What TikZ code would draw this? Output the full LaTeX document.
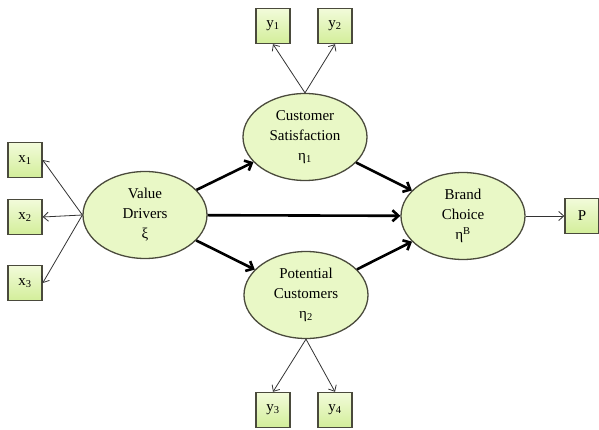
\documentclass[tikz,border=0pt]{standalone}
\usepackage{fontspec}
\setmainfont{Liberation Serif}
\usetikzlibrary{shapes.geometric, arrows.meta}
\definecolor{latentfill}{HTML}{E9F8C6}
\definecolor{boxtop}{HTML}{F2FBDA}
\definecolor{boxbot}{HTML}{D3EE9A}
\definecolor{edgegray}{HTML}{4A4A3C}
\begin{document}
\begin{tikzpicture}[x=1pt, y=-1pt,
  latent/.style={draw=edgegray, line width=1.3pt, ellipse, fill=latentfill, minimum width=124pt, minimum height=87pt, inner sep=0pt, align=center, font=\fontsize{15}{20}\selectfont},
  indicator/.style={draw=edgegray, line width=1.4pt, top color=boxtop, bottom color=boxbot, minimum width=34pt, minimum height=35pt, inner sep=0pt, font=\fontsize{15}{17}\selectfont},
  path/.style={-{Straight Barb[length=6pt, width=11pt]}, line width=2.6pt},
  load/.style={-{Straight Barb[length=5pt, width=9pt]}, line width=0.8pt, draw=black!80}
]
  \useasboundingbox (0,0) rectangle (599,430);
  % Latent variables
  \node[latent] (drivers) at (145, 215) {Value\\Drivers\\ξ};
  \node[latent] (satisf) at (305, 137) {Customer\\Satisfaction\\η\textsubscript{1}};
  \node[latent] (potent) at (306, 295) {Potential\\Customers\\η\textsubscript{2}};
  \node[latent] (brand) at (463, 216) {Brand\\Choice\\η\textsuperscript{B}};
  % Indicators
  \node[indicator] (x1) at (25, 160) {x\textsubscript{1}};
  \node[indicator] (x2) at (25, 217) {x\textsubscript{2}};
  \node[indicator] (x3) at (25, 283) {x\textsubscript{3}};
  \node[indicator] (y1) at (273, 26) {y\textsubscript{1}};
  \node[indicator] (y2) at (335, 26) {y\textsubscript{2}};
  \node[indicator] (y3) at (273, 410) {y\textsubscript{3}};
  \node[indicator] (y4) at (335, 410) {y\textsubscript{4}};
  \node[indicator] (p) at (582, 216) {P};

  % Structural paths
  \draw[path] (drivers) -- (satisf);
  \draw[path] (drivers) -- (potent);
  \draw[path] (drivers) -- (brand);
  \draw[path] (satisf) -- (brand);
  \draw[path] (potent) -- (brand);

  % Loadings
  \draw[load] (drivers.west) -- (x1.east);
  \draw[load] (drivers.west) -- (x2.east);
  \draw[load] (drivers.west) -- (x3.east);
  \draw[load] (satisf.north) -- (y1.south);
  \draw[load] (satisf.north) -- (y2.south);
  \draw[load] (potent.south) -- (y3.north);
  \draw[load] (potent.south) -- (y4.north);
  \draw[load] (brand.east) -- (p.west);
\end{tikzpicture}
\end{document}
